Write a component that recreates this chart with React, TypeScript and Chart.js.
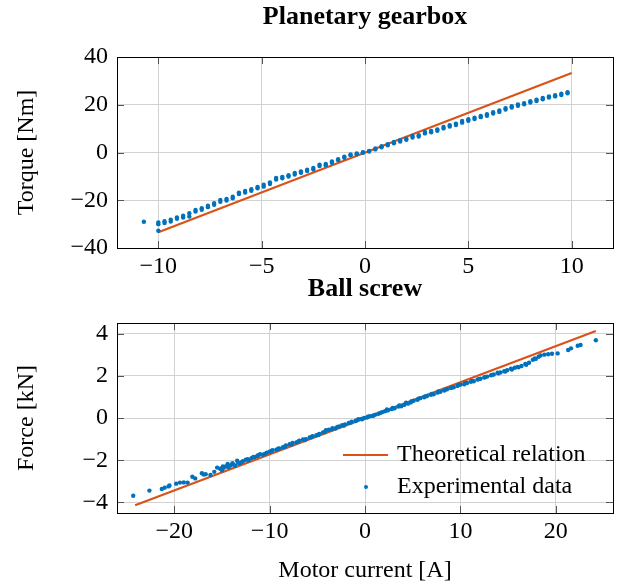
import React, { useEffect, useRef } from "react";
import { Chart, registerables } from "chart.js";

Chart.register(...registerables);

// ---------- Data ----------
const topTitle = "Planetary gearbox";
const bottomTitle = "Ball screw";
const topYLabel = "Torque [Nm]";
const bottomYLabel = "Force [kN]";
const xLabel = "Motor current [A]";
const legendLabels = ["Theoretical relation", "Experimental data"];

const topXTicks = [-10, -5, 0, 5, 10];
const topYTicks = [-40, -20, 0, 20, 40];
const bottomXTicks = [-20, -10, 0, 10, 20];
const bottomYTicks = [-4, -2, 0, 2, 4];

const topTheoryCurrent = [-10, 10];
const topTheoryTorque = [-33.4, 33.3];

const topCurrent = [
  -10.0, -9.7, -9.4, -9.1, -8.8, -8.5, -8.2, -7.9, -7.6, -7.3, -7.0, -6.7, -6.4, -6.1, -5.8, -5.5,
  -5.2, -4.9, -4.6, -4.3, -4.0, -3.7, -3.4, -3.1, -2.8, -2.5, -2.2, -1.9, -1.6, -1.3, -1.0, -0.7,
  -0.4, -0.1, 0.2, 0.5, 0.8, 1.1, 1.4, 1.7, 2.0, 2.3, 2.6, 2.9, 3.2, 3.5, 3.8, 4.1, 4.4, 4.7, 5.0,
  5.3, 5.6, 5.9, 6.2, 6.5, 6.8, 7.1, 7.4, 7.7, 8.0, 8.3, 8.6, 8.9, 9.2, 9.5, 9.8,
];
const topTorqueSweepA = [
  -30.0, -29.5, -28.9, -27.8, -27.2, -26.8, -24.7, -24.0, -22.9, -21.9, -20.6, -20.1, -19.2, -17.4,
  -16.8, -16.0, -15.0, -14.3, -13.2, -11.3, -10.8, -10.1, -9.2, -8.5, -7.8, -7.1, -5.7, -5.3, -4.3,
  -3.2, -2.2, -1.1, -0.7, -0.1, 0.7, 1.7, 2.6, 3.5, 4.4, 5.1, 5.8, 6.9, 7.2, 8.6, 9.0, 9.7, 10.7,
  11.4, 12.1, 13.2, 13.9, 14.6, 15.3, 16.0, 16.9, 17.6, 18.6, 19.4, 20.1, 20.7, 21.5, 22.1, 22.8,
  23.5, 24.0, 24.6, 25.3,
];
const topTorqueSweepB = [
  -29.3, -28.8, -28.1, -27.2, -26.5, -25.4, -24.1, -23.3, -22.3, -21.2, -19.9, -19.5, -18.5, -16.8,
  -16.1, -15.4, -14.4, -13.5, -12.5, -10.7, -10.2, -9.5, -8.6, -7.9, -7.2, -6.5, -5.1, -4.8, -3.8,
  -2.8, -1.8, -0.8, -0.4, 0.1, 0.4, 1.3, 2.2, 3.0, 3.9, 4.6, 5.3, 6.3, 6.7, 8.0, 8.5, 9.1, 10.1,
  10.9, 11.5, 12.5, 13.3, 14.0, 14.8, 15.4, 16.3, 17.0, 18.0, 18.8, 19.6, 20.2, 20.9, 21.6, 22.3,
  23.0, 23.5, 24.1, 24.8,
];
const topExtraCurrent = [-10.7, -10.0];
const topExtraTorque = [-29.0, -32.8];

const bottomTheoryCurrent = [-24.1, 24.2];
const bottomTheoryForce = [-4.13, 4.12];

const bottomCurrent = [
  -24.3, -22.6, -21.3, -21.0, -20.6, -20.5, -19.8, -19.4, -19.0, -18.6, -18.1, -17.8, -17.1, -16.9,
  -16.7, -16.2, -15.8, -15.2, -15.0, -14.8, -14.6, -14.3, -14.1, -13.8, -13.6, -13.3, -13.1, -12.8,
  -12.5, -12.2, -11.9, -11.6, -11.3, -11.0, -10.7, -10.3, -10.0, -9.7, -9.3, -9.0, -8.6, -8.3, -7.9,
  -7.6, -7.2, -6.9, -6.5, -6.2, -5.8, -5.5, -5.1, -4.8, -4.4, -4.1, -3.8, -3.4, -3.1, -2.7, -2.4,
  -2.1, -1.7, -1.4, -1.0, -0.7, -0.4, -0.1, 0.2, 0.5, 0.8, 1.1, 1.4, 1.8, 2.1, 2.4, 2.8, 3.1, 3.5,
  3.8, 4.1, 4.5, 4.8, 5.1, 5.5, 5.8, 6.2, 6.5, 6.9, 7.2, 7.6, 7.9, 8.3, 8.6, 9.0, 9.3, 9.7, 10.0,
  10.4, 10.7, 11.1, 11.4, 11.8, 12.1, 12.5, 12.8, 13.2, 13.5, 13.9, 14.2, 14.6, 14.9, 15.3, 15.7,
  16.0, 16.4, 16.8, 17.2, 17.6, 17.8, 18.4, 18.8, 19.2, 19.6, 20.2, 21.3, 21.6, 22.3, 22.6, 24.2,
];
const bottomForce = [
  -3.68, -3.44, -3.36, -3.30, -3.24, -3.20, -3.11, -3.06, -3.05, -3.06, -2.78, -2.86, -2.62, -2.68,
  -2.66, -2.70, -2.55, -2.40, -2.48, -2.36, -2.30, -2.33, -2.25, -2.20, -2.26, -2.12, -2.16, -2.05,
  -1.98, -2.00, -1.90, -1.86, -1.80, -1.72, -1.74, -1.64, -1.60, -1.52, -1.50, -1.44, -1.38, -1.30,
  -1.24, -1.18, -1.16, -1.08, -1.02, -1.00, -0.92, -0.86, -0.82, -0.76, -0.68, -0.58, -0.56, -0.48,
  -0.50, -0.40, -0.34, -0.30, -0.24, -0.18, -0.14, -0.06, -0.04, 0.00, 0.02, 0.08, 0.10, 0.16, 0.20,
  0.28, 0.32, 0.36, 0.42, 0.46, 0.54, 0.56, 0.62, 0.68, 0.74, 0.82, 0.86, 0.94, 0.98, 1.04, 1.10,
  1.12, 1.20, 1.24, 1.30, 1.36, 1.42, 1.46, 1.52, 1.58, 1.60, 1.66, 1.72, 1.74, 1.82, 1.86, 1.92,
  1.96, 2.02, 2.06, 2.14, 2.16, 2.22, 2.26, 2.34, 2.38, 2.42, 2.46, 2.56, 2.62, 2.76, 2.82, 2.96,
  3.00, 3.02, 3.04, 3.06, 3.22, 3.30, 3.42, 3.46, 3.68,
];
const bottomCurrent2 = [
  -15.5, -14.9, -14.4, -13.9, -13.4, -12.9, -12.3, -11.7, -11.2, -10.5, -9.8, -9.1, -8.4, -7.7,
  -7.0, -6.3, -5.6, -4.9, -4.2, -3.5, -2.9, -2.2, -1.5, -0.9, -0.3, 0.3, 0.9, 1.6, 2.3, 2.9, 3.6,
  4.3, 4.9, 5.6, 6.3, 7.0, 7.7, 8.4, 9.1, 9.8, 10.5, 11.2, 11.9, 12.6, 13.3, 14.0, 14.7, 15.4, 16.1,
  16.9, 17.9, 18.2,
];
const bottomForce2 = [
  -2.35, -2.30, -2.18, -2.14, -2.02, -2.08, -1.95, -1.84, -1.76, -1.70, -1.56, -1.46, -1.36, -1.26,
  -1.12, -1.04, -0.90, -0.80, -0.66, -0.54, -0.42, -0.36, -0.22, -0.12, -0.06, 0.06, 0.12, 0.24,
  0.40, 0.48, 0.60, 0.72, 0.80, 0.92, 1.02, 1.14, 1.26, 1.34, 1.44, 1.56, 1.66, 1.76, 1.84, 1.94,
  2.04, 2.12, 2.20, 2.30, 2.40, 2.52, 2.80, 2.90,
];

// ---------- Styles ----------
const FONT = "'Liberation Serif', 'Times New Roman', serif";
const ORANGE = "#D95319";
const BLUE = "#0072BD";
const W = 621;
const FS = 24;
const TITLE_FS = 26;

const zip = (xs: number[], ys: number[]) => xs.map((x, i) => ({ x, y: ys[i] }));
const fmt = (v: number) => (v < 0 ? "\u2212" + Math.abs(v) : String(v));

const framePlugin = {
  id: "frameTicks",
  afterDatasetsDraw(chart: any) {
    const { ctx, chartArea: a, scales } = chart;
    const L = 7;
    ctx.save();
    ctx.strokeStyle = "#555";
    ctx.lineWidth = 1;
    ctx.beginPath();
    for (const t of scales.x.ticks) {
      const p = Math.round(scales.x.getPixelForValue(t.value)) + 0.5;
      ctx.moveTo(p, a.top);
      ctx.lineTo(p, a.top + L);
      ctx.moveTo(p, a.bottom);
      ctx.lineTo(p, a.bottom - L);
    }
    for (const t of scales.y.ticks) {
      const p = Math.round(scales.y.getPixelForValue(t.value)) + 0.5;
      ctx.moveTo(a.left, p);
      ctx.lineTo(a.left + L, p);
      ctx.moveTo(a.right, p);
      ctx.lineTo(a.right - L, p);
    }
    ctx.stroke();
    ctx.strokeStyle = "#000";
    ctx.strokeRect(Math.round(a.left) + 0.5, Math.round(a.top) + 0.5, Math.round(a.width), Math.round(a.height));
    ctx.restore();
  },
};

const legendPlugin = {
  id: "innerLegend",
  afterDatasetsDraw(chart: any) {
    const { ctx, chartArea: a } = chart;
    const ds = chart.data.datasets;
    ctx.save();
    ctx.font = `${FS}px ${FONT}`;
    ctx.fillStyle = "#000";
    ctx.textBaseline = "middle";
    ctx.textAlign = "left";
    const y1 = a.bottom - 58;
    const y2 = a.bottom - 26;
    ctx.strokeStyle = ds[0].borderColor;
    ctx.lineWidth = 2.2;
    ctx.beginPath();
    ctx.moveTo(a.right - 270, y1);
    ctx.lineTo(a.right - 225, y1);
    ctx.stroke();
    ctx.fillText(ds[0].label, a.right - 216, y1);
    ctx.fillStyle = ds[1].backgroundColor;
    ctx.beginPath();
    ctx.arc(a.right - 247, y2, 2, 0, Math.PI * 2);
    ctx.fill();
    ctx.fillStyle = "#000";
    ctx.fillText(ds[1].label, a.right - 216, y2);
    ctx.restore();
  },
};

function makeConfig(opts: {
  title: string;
  titlePad: { top: number; bottom: number };
  yLabel: string;
  xLabel?: string;
  xMin: number;
  xMax: number;
  yMin: number;
  yMax: number;
  xTicks: number[];
  yTicks: number[];
  xHeight: number;
  datasets: any[];
  plugins: any[];
}) {
  return {
    type: "scatter" as const,
    data: { datasets: opts.datasets },
    plugins: opts.plugins,
    options: {
      responsive: false,
      animation: false,
      devicePixelRatio: 1,
      layout: { padding: { left: 0, right: 8, top: 0, bottom: 0 } },
      plugins: {
        legend: { display: false },
        tooltip: { enabled: false },
        title: {
          display: true,
          fullSize: false,
          text: opts.title,
          color: "#000",
          font: { family: FONT, size: TITLE_FS, weight: "bold" },
          padding: opts.titlePad,
        },
      },
      scales: {
        x: {
          type: "linear",
          min: opts.xMin,
          max: opts.xMax,
          afterBuildTicks: (s: any) => {
            s.ticks = opts.xTicks.map((v) => ({ value: v }));
          },
          afterFit: (s: any) => {
            s.height = opts.xHeight;
          },
          grid: { color: "#d2d2d2", lineWidth: 1, drawTicks: false },
          border: { display: false },
          ticks: {
            color: "#000",
            font: { family: FONT, size: FS },
            padding: 4.6,
            callback: (v: any) => fmt(Number(v)),
          },
          title: {
            display: !!opts.xLabel,
            text: opts.xLabel || "",
            color: "#000",
            font: { family: FONT, size: FS },
            padding: { top: 0, bottom: 0 },
          },
        },
        y: {
          type: "linear",
          min: opts.yMin,
          max: opts.yMax,
          afterBuildTicks: (s: any) => {
            s.ticks = opts.yTicks.map((v) => ({ value: v }));
          },
          afterFit: (s: any) => {
            s.width = 117;
          },
          grid: { color: "#d2d2d2", lineWidth: 1, drawTicks: false },
          border: { display: false },
          ticks: {
            color: "#000",
            font: { family: FONT, size: FS },
            padding: 9,
            callback: (v: any) => fmt(Number(v)),
          },
          title: {
            display: true,
            text: opts.yLabel,
            color: "#000",
            font: { family: FONT, size: FS },
            padding: { top: 12, bottom: 0 },
          },
        },
      },
    },
  };
}

export default function App() {
  const topRef = useRef<HTMLCanvasElement | null>(null);
  const botRef = useRef<HTMLCanvasElement | null>(null);

  useEffect(() => {
    const theoryStyle = {
      showLine: true,
      borderColor: ORANGE,
      backgroundColor: ORANGE,
      borderWidth: 2.2,
      pointRadius: 0,
      order: 1,
    };
    const pointStyle = {
      showLine: false,
      backgroundColor: BLUE,
      borderColor: BLUE,
      borderWidth: 0,
      pointRadius: 2.2,
      order: 0,
    };

    const top = new Chart(
      topRef.current!,
      makeConfig({
        title: topTitle,
        titlePad: { top: 1.4, bottom: 24.4 },
        yLabel: topYLabel,
        xMin: -12,
        xMax: 12,
        yMin: -40,
        yMax: 40,
        xTicks: topXTicks,
        yTicks: topYTicks,
        xHeight: 32,
        plugins: [framePlugin],
        datasets: [
          { label: legendLabels[0], data: zip(topTheoryCurrent, topTheoryTorque), ...theoryStyle },
          {
            label: legendLabels[1],
            data: [
              ...zip(topCurrent, topTorqueSweepA),
              ...zip(topCurrent, topTorqueSweepB),
              ...zip(topExtraCurrent, topExtraTorque),
            ],
            ...pointStyle,
          },
        ],
      }) as any
    );

    const bottom = new Chart(
      botRef.current!,
      makeConfig({
        title: bottomTitle,
        titlePad: { top: 3.4, bottom: 18.4 },
        yLabel: bottomYLabel,
        xLabel: xLabel,
        xMin: -26,
        xMax: 26,
        yMin: -4.5,
        yMax: 4.5,
        xTicks: bottomXTicks,
        yTicks: bottomYTicks,
        xHeight: 72,
        plugins: [framePlugin, legendPlugin],
        datasets: [
          { label: legendLabels[0], data: zip(bottomTheoryCurrent, bottomTheoryForce), ...theoryStyle },
          {
            label: legendLabels[1],
            data: [...zip(bottomCurrent, bottomForce), ...zip(bottomCurrent2, bottomForce2)],
            ...pointStyle,
          },
        ],
      }) as any
    );

    return () => {
      top.destroy();
      bottom.destroy();
    };
  }, []);

  return (
    <div style={{ position: "absolute", left: 0, top: 0, width: W, height: 585, background: "#fff" }}>
      <canvas
        ref={topRef}
        width={W}
        height={280}
        style={{ position: "absolute", left: 0, top: 0, width: W, height: 280 }}
      />
      <canvas
        ref={botRef}
        width={W}
        height={315}
        style={{ position: "absolute", left: 0, top: 270, width: W, height: 315 }}
      />
    </div>
  );
}
